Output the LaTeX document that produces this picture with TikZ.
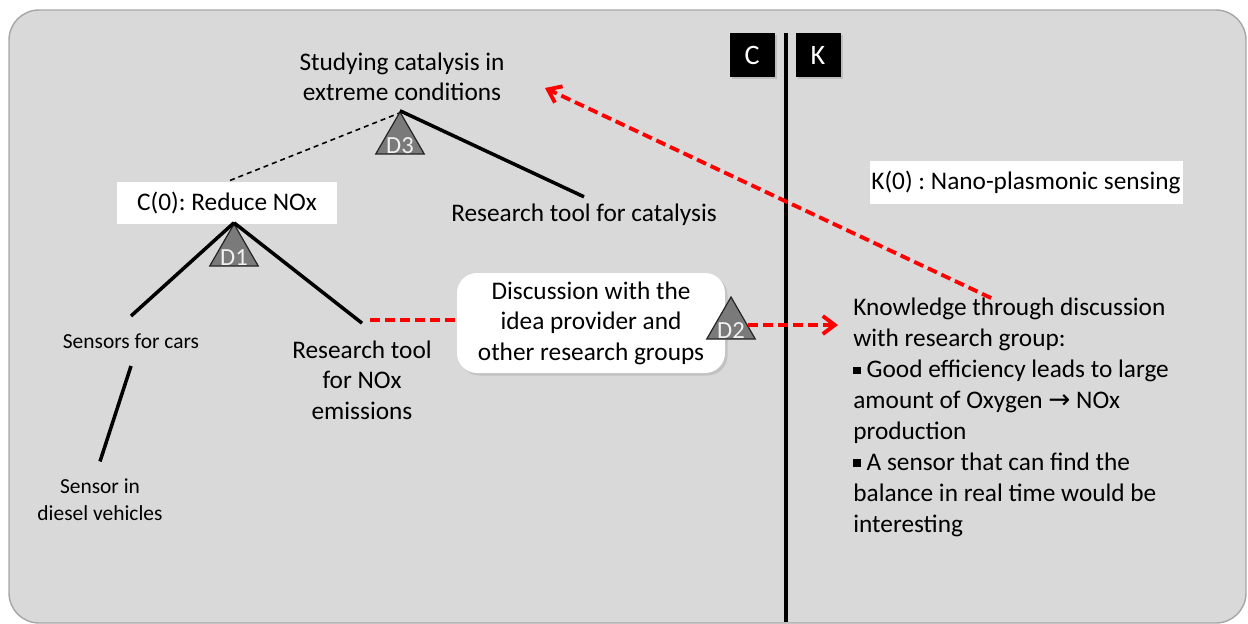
\documentclass[tikz,border=0pt]{standalone}
\usepackage{fontspec}
\setmainfont{Carlito}
\newfontfamily\symfont{DejaVu Sans}
\usetikzlibrary{positioning,arrows.meta,shapes.geometric,shadows}
\definecolor{panelgray}{HTML}{D9D9D9}
\definecolor{panelline}{HTML}{A6A6A6}
\definecolor{trigray}{HTML}{7A7A7A}
\definecolor{tririm}{HTML}{262626}
\newcommand{\sqbul}{\rule[0.14em]{0.3em}{0.3em}}
\frenchspacing
\tikzset{
  treeline/.style={line width=2pt},
  linkline/.style={dash pattern=on 1mm off 0.8mm, line width=0.9pt},
  redlink/.style={red, line width=2.2pt, dash pattern=on 2mm off 1mm},
  redarrow/.style={redlink, -{Straight Barb[length=2.4mm,width=3.6mm]}},
  boxnode/.style={fill=white, inner sep=0pt, align=center},
  discnode/.style={fill=white, rounded corners=4mm, minimum width=53.6mm, minimum height=20mm, align=center, drop shadow={opacity=0.25, shadow xshift=0.5mm, shadow yshift=-0.5mm}},
  tagnode/.style={fill=black, text=white, minimum width=9mm, minimum height=8.8mm, inner sep=0pt, font=\fontsize{16}{19}\selectfont, drop shadow={opacity=0.3, shadow xshift=0.4mm, shadow yshift=-0.4mm}},
  trinode/.style={regular polygon, regular polygon sides=3, minimum size=11.2mm, inner sep=0pt, fill=trigray, draw=tririm, line width=0.7pt},
  dtext/.style={text=panelgray!40!white, inner sep=0pt, font=\fontsize{14}{16}\selectfont},
  leafnode/.style={align=center, inner sep=2pt, outer sep=8pt},
  smalltext/.style={font=\fontsize{12.2}{15.4}\selectfont}
}
\begin{document}
\begin{tikzpicture}[x=0.2mm, y=-0.2mm, every node/.style={font=\fontsize{14.4}{17.3}\selectfont}]
  \useasboundingbox (0,0) rectangle (1248,624);
  \draw[panelline, fill=panelgray, line width=0.8pt, rounded corners=6mm] (9,10) rectangle (1246,623);
  \draw[line width=2pt] (786,33) -- (786,622);
  \node[tagnode] (ctag) at (752,55) {C};
  \node[tagnode] (ktag) at (818,55) {K};

  \node[align=center] (study) at (402,77) {Studying catalysis in\\extreme conditions};
  \node[boxnode, minimum width=44mm, minimum height=8.4mm] (c0) at (227,203) {C(0): Reduce NOx};
  \node[inner sep=4pt] (cattool) at (584,215) {Research tool for catalysis};
  \node[boxnode, minimum width=62.6mm, minimum height=8.6mm] (k0) at (1026,182) {K(0) : Nano-plasmonic sensing};
  \node[leafnode, smalltext] (sens) at (131,341) {Sensors for cars};
  \node[leafnode, smalltext] (diesel) at (100,500) {Sensor in\\diesel vehicles};
  \node[leafnode] (nox) at (362,380) {Research tool\\for NOx\\emissions};
  \node[discnode] (disc) at (591,323) {Discussion with the\\idea provider and\\other research groups};
  \node[anchor=north west, inner sep=0pt, align=left, font=\fontsize{14.4}{17.6}\selectfont] (know) at (853,298)
    {Knowledge through discussion\\with research group:\\\sqbul\ Good efficiency leads to large\\amount of Oxygen {\symfont\fontsize{15}{17}\selectfont →} NOx\\production\\\sqbul\ A sensor that can find the\\balance in real time would be\\interesting};
  \coordinate (noxend) at (370,320);
  \coordinate (studytip) at (545,88);

  \draw[linkline] (study.south |- 0,112) -- (c0.north);
  \node[trinode] (d3) at (400,140) {};
  \node[trinode] (d1) at (234,252) {};
  \node[trinode] (d2) at (731,325) {};
  \draw[treeline] (d3.corner 1) -- (cattool.north);
  \draw[treeline] (d1.corner 1) -- (sens.north);
  \draw[treeline] (d1.corner 1) -- (nox.north);
  \draw[treeline] (sens.south) -- (diesel.north);
  \node[dtext] (d3t) at ([yshift=-1.1mm]d3.center) {D3};
  \node[dtext] (d1t) at ([yshift=-1.1mm]d1.center) {D1};
  \node[dtext] (d2t) at ([yshift=-1.1mm]d2.center) {D2};

  \draw[redlink] (noxend) -- (noxend -| disc.west);
  \draw[redarrow, shorten >=3mm] (d2.east) -- (d2.east -| know.west);
  \draw[redarrow] ([xshift=-4mm]know.north) -- (studytip);
\end{tikzpicture}
\end{document}
